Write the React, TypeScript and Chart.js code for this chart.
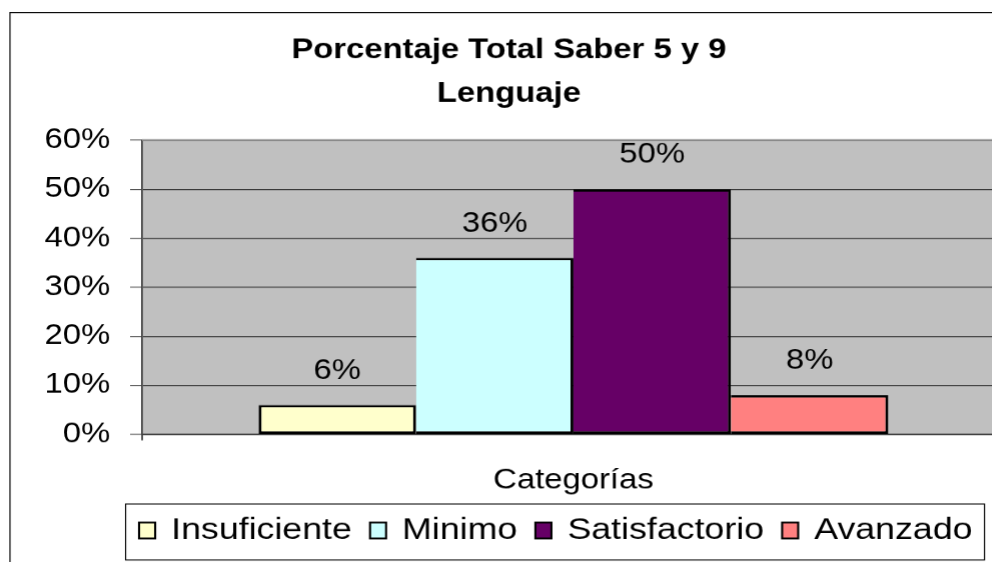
import React, { useEffect, useRef } from 'react';
import { Chart, registerables } from 'chart.js';

Chart.register(...registerables);

// ---- data ----
const TITLE_LINES = ['Porcentaje Total Saber 5 y 9', 'Lenguaje'];
const CATEGORY_LABELS = [''];
const AXIS_TITLE = 'Categorías';
const SERIES_NAMES = ['Insuficiente', 'Minimo', 'Satisfactorio', 'Avanzado'];
const SERIES_VALUES = [0.06, 0.36, 0.5, 0.08];
const SERIES_COLORS = ['#FFFFCC', '#CCFFFF', '#660066', '#FF8080'];
const Y_MIN = 0;
const Y_MAX = 0.6;
const Y_STEP = 0.1;

// ---- layout ----
const S = 1.17; // horizontal stretch of the whole picture
const W = 858;
const H = 562;
const FONT = "'Liberation Sans', Arial, Helvetica, sans-serif";

const pct = (v: number) => Math.round(v * 100) + '%';

const framePlugin = {
  id: 'frame',
  beforeDraw(chart: any) {
    const { ctx, chartArea: a } = chart;
    ctx.save();
    ctx.fillStyle = '#ffffff';
    ctx.fillRect(0, 0, chart.width, chart.height);
    ctx.fillStyle = '#C0C0C0';
    ctx.fillRect(a.left, a.top, a.right - a.left, a.bottom - a.top);
    ctx.strokeStyle = '#000';
    ctx.lineWidth = 1;
    ctx.beginPath();
    ctx.moveTo(8.5, chart.height + 5);
    ctx.lineTo(8.5, 12.5);
    ctx.lineTo(chart.width + 5, 12.5);
    ctx.stroke();
    ctx.restore();
  },
  afterDatasetsDraw(chart: any) {
    const { ctx, chartArea: a } = chart;
    ctx.save();
    // plot area top border
    ctx.strokeStyle = '#8a8a8a';
    ctx.lineWidth = 2;
    ctx.beginPath();
    ctx.moveTo(a.left, a.top);
    ctx.lineTo(a.right + 2, a.top);
    ctx.stroke();
    // axis line running a little below the 0% line
    ctx.strokeStyle = '#444';
    ctx.lineWidth = 1.5;
    ctx.beginPath();
    ctx.moveTo(a.left, a.bottom);
    ctx.lineTo(a.left, a.bottom + 6);
    ctx.stroke();
    // value labels
    ctx.fillStyle = '#000';
    ctx.font = `28px ${FONT}`;
    ctx.textAlign = 'center';
    ctx.textBaseline = 'middle';
    chart.data.datasets.forEach((ds: any, i: number) => {
      const meta = chart.getDatasetMeta(i);
      meta.data.forEach((el: any, j: number) => {
        ctx.fillText(pct(ds.data[j]), el.x, el.y - 34);
      });
    });
    ctx.restore();
  },
  afterDraw(chart: any) {
    const { ctx } = chart;
    ctx.save();
    // legend box
    const left = 106.8, top = 503, right = 840.2, bottom = 559;
    ctx.fillStyle = '#fff';
    ctx.fillRect(left, top, right - left, bottom - top);
    ctx.strokeStyle = '#000';
    ctx.lineWidth = 1;
    ctx.strokeRect(left + 0.5, top + 0.5, right - left, bottom - top);
    ctx.font = `30.5px ${FONT}`;
    ctx.textBaseline = 'middle';
    ctx.textAlign = 'left';
    let x = 118.8;
    const cy = 530;
    chart.data.datasets.forEach((ds: any) => {
      ctx.fillStyle = ds.backgroundColor;
      ctx.fillRect(x, cy - 8, 13.7, 16);
      ctx.strokeStyle = '#000';
      ctx.lineWidth = 1.8;
      ctx.strokeRect(x, cy - 8, 13.7, 16);
      ctx.fillStyle = '#000';
      const tx = x + 27.4;
      ctx.fillText(ds.label, tx, cy);
      x = tx + ctx.measureText(ds.label).width + 15.5;
    });
    ctx.restore();
  },
};

export default function App() {
  const ref = useRef<HTMLCanvasElement | null>(null);

  useEffect(() => {
    if (!ref.current) return;
    const chart = new Chart(ref.current, {
      type: 'bar',
      data: {
        labels: CATEGORY_LABELS,
        datasets: SERIES_NAMES.map((name, i) => ({
          label: name,
          data: [SERIES_VALUES[i]],
          backgroundColor: SERIES_COLORS[i],
          borderColor: '#000',
          borderWidth: 2.5,
          borderSkipped: i === 0 ? false : 'left',
          categoryPercentage: 0.73,
          barPercentage: 1,
        })),
      },
      options: {
        responsive: false,
        devicePixelRatio: S,
        animation: false,
        events: [],
        layout: { padding: { left: 11.2, right: 0, top: 0, bottom: 64.9 } },
        plugins: {
          legend: { display: false },
          tooltip: { enabled: false },
          title: {
            display: true,
            text: TITLE_LINES,
            color: '#000',
            font: { family: FONT, size: 28, weight: 'bold', lineHeight: 1.57 },
            padding: { top: 28, bottom: 24.1 },
          },
        },
        scales: {
          x: {
            type: 'category',
            offset: true,
            grid: { display: false },
            ticks: { display: false },
            border: { display: true, color: '#000', width: 1 },
            title: {
              display: true,
              text: AXIS_TITLE,
              color: '#000',
              font: { family: FONT, size: 28, lineHeight: 1.2 },
              padding: { top: 21.5, bottom: 0 },
            },
          },
          y: {
            min: Y_MIN,
            max: Y_MAX,
            afterFit(scale: any) {
              scale.width = 110.2;
            },
            ticks: {
              stepSize: Y_STEP,
              padding: 17,
              color: '#000',
              font: { family: FONT, size: 28 },
              callback: (v: any) => pct(Number(v)),
            },
            grid: {
              color: '#3a3a3a',
              lineWidth: 1,
              tickLength: 10.3,
              tickColor: '#555',
              drawTicks: true,
            },
            border: { display: true, color: '#444', width: 1.5 },
          },
        },
      },
      plugins: [framePlugin],
    } as any);
    return () => chart.destroy();
  }, []);

  return (
    <div style={{ position: 'absolute', left: 0, top: 0, width: 992, height: 562, overflow: 'hidden', background: '#fff' }}>
      <div style={{ width: W, height: H, transform: `scaleX(${S})`, transformOrigin: '0 0' }}>
        <canvas ref={ref} width={W} height={H} style={{ display: 'block' }} />
      </div>
    </div>
  );
}
